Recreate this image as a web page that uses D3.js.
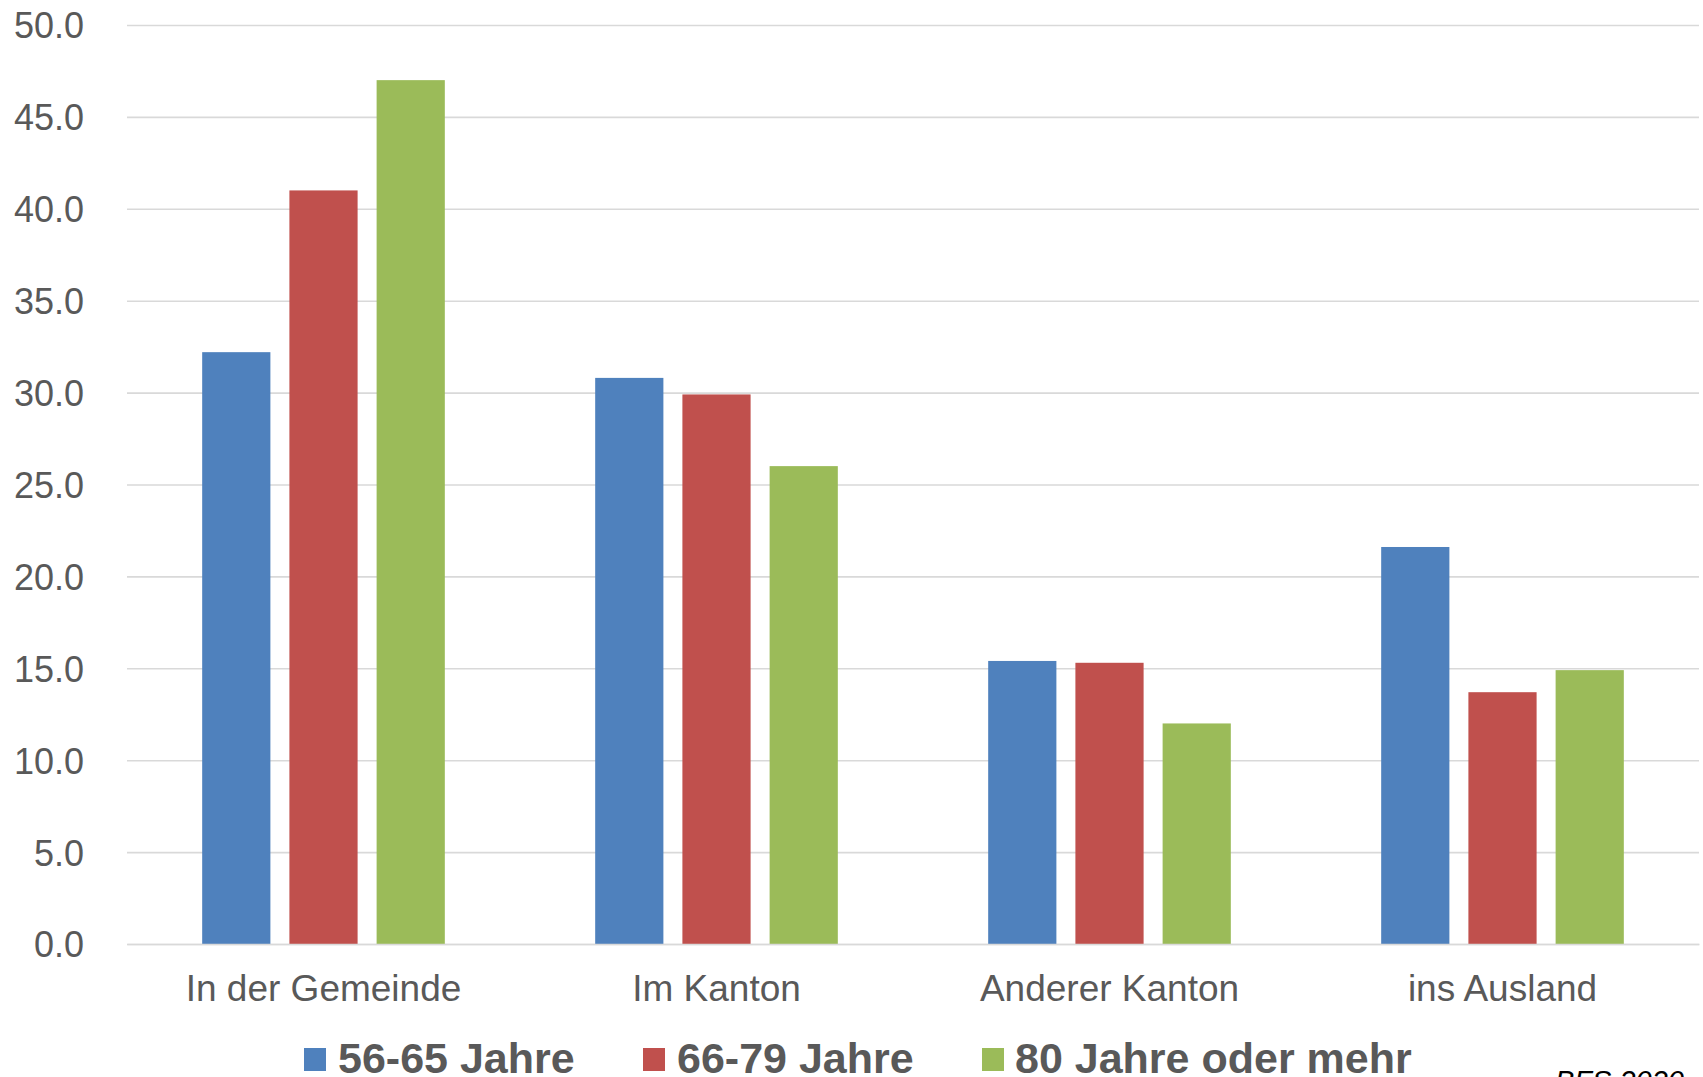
<!DOCTYPE html>
<html>
<head>
<meta charset="utf-8">
<script src="https://cdn.jsdelivr.net/npm/d3@7"></script>
<style>
  html, body { margin: 0; padding: 0; background: #ffffff; overflow: hidden; }
  svg { display: block; font-family: "Liberation Sans", Arial, sans-serif; }
</style>
</head>
<body>
<svg id="chart" width="1703" height="1077"></svg>
<script>
// Categories (destination of the move)
const categories = ["In der Gemeinde", "Im Kanton", "Anderer Kanton", "ins Ausland"];

// Age groups (series)
const seriesNames = ["56-65 Jahre", "66-79 Jahre", "80 Jahre oder mehr"];
const seriesColors = ["#4F81BD", "#C0504D", "#9BBB59"];

// Values per age group, in category order
const values5665 = [32.2, 30.8, 15.4, 21.6];
const values6679 = [41.0, 29.9, 15.3, 13.7];
const values80plus = [47.0, 26.0, 12.0, 14.9];

// Y axis ticks
const yTicks = [0, 5, 10, 15, 20, 25, 30, 35, 40, 45, 50];

const sourceNote = "BFS 2020";

const seriesValues = [values5665, values6679, values80plus];

const svg = d3.select("#chart");
const plot = { left: 127, right: 1699, top: 25, bottom: 944 };

const y = d3.scaleLinear().domain([0, 50]).range([plot.bottom, plot.top]);

const x0 = d3.scaleBand()
  .domain(categories)
  .range([plot.left, plot.right])
  .paddingInner(0)
  .paddingOuter(0);

const x1 = d3.scaleBand()
  .domain(seriesNames)
  .range([0, x0.bandwidth()])
  .paddingInner(0.218)
  .paddingOuter(0.862);

// Horizontal gridlines with value labels
const yAxis = d3.axisLeft(y)
  .tickValues(yTicks)
  .tickSize(-(plot.right - plot.left))
  .tickPadding(43)
  .tickFormat(d3.format(".1f"));

const gy = svg.append("g")
  .attr("transform", `translate(${plot.left},0)`)
  .call(yAxis);
gy.select(".domain").remove();
gy.selectAll(".tick line")
  .attr("stroke", "#d9d9d9")
  .attr("stroke-width", 1.6);
gy.selectAll(".tick text")
  .attr("fill", "#595959")
  .attr("font-size", 36)
  .attr("font-family", "'Liberation Sans', Arial, sans-serif")
  .attr("dy", "0.36em");

// Bars
const groups = svg.append("g")
  .selectAll("g")
  .data(categories)
  .join("g")
  .attr("transform", d => `translate(${x0(d)},0)`);

groups.selectAll("rect")
  .data((c, ci) => seriesNames.map((s, si) => ({ s, si, v: seriesValues[si][ci] })))
  .join("rect")
  .attr("x", d => x1(d.s))
  .attr("width", x1.bandwidth())
  .attr("y", d => y(d.v))
  .attr("height", d => y(0) - y(d.v))
  .attr("fill", d => seriesColors[d.si]);

// Category axis
const xAxis = d3.axisBottom(x0).tickSize(0).tickPadding(57);
const gx = svg.append("g")
  .attr("transform", `translate(0,${plot.bottom})`)
  .call(xAxis);
gx.select(".domain")
  .attr("stroke", "#d9d9d9")
  .attr("stroke-width", 1.6);
gx.selectAll(".tick text")
  .attr("fill", "#595959")
  .attr("font-size", 37)
  .attr("font-family", "'Liberation Sans', Arial, sans-serif")
  .attr("dy", "0");

// Legend
const legendItems = [
  { x: 304, textX: 338 },
  { x: 643, textX: 677 },
  { x: 982, textX: 1015 }
];
const legend = svg.append("g");
seriesNames.forEach((name, i) => {
  legend.append("rect")
    .attr("x", legendItems[i].x)
    .attr("y", 1048)
    .attr("width", 22)
    .attr("height", 23)
    .attr("fill", seriesColors[i]);
  legend.append("text")
    .attr("x", legendItems[i].textX)
    .attr("y", 1073)
    .attr("fill", "#595959")
    .attr("font-size", 43)
    .attr("font-weight", "bold")
    .attr("font-family", "'Liberation Sans', Arial, sans-serif")
    .text(name);
});

// Source note
svg.append("text")
  .attr("x", 1555)
  .attr("y", 1091)
  .attr("fill", "#000000")
  .attr("font-size", 29)
  .attr("font-style", "italic")
  .attr("font-family", "'Liberation Sans', Arial, sans-serif")
  .text(sourceNote);
</script>
</body>
</html>
